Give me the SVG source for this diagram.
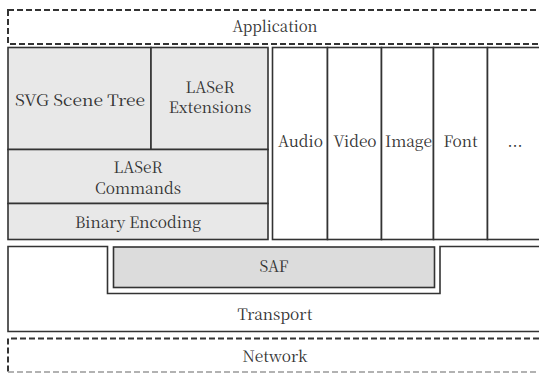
<svg xmlns="http://www.w3.org/2000/svg" width="539" height="374" viewBox="0 0 539 374" font-family="'Noto Serif CJK KR', 'Liberation Serif', serif">
  <style>
    .box { fill: #ffffff; stroke: #333333; stroke-width: 1.6; }
    .lsr { fill: #e8e8e8; stroke: #333333; stroke-width: 1.6; }
    .saf { fill: #dcdcdc; stroke: #333333; stroke-width: 1.6; }
    .dash { fill: #ffffff; stroke: #333333; stroke-width: 2; stroke-dasharray: 6 3; }
    .lbl { font-size: 15.5px; fill: #333333; text-anchor: middle; }
  </style>

  <!-- Application layer (dashed) -->
  <g id="application">
    <rect class="dash" x="8" y="10" width="545" height="34"/>
    <text class="lbl" x="275" y="32" textLength="85" lengthAdjust="spacingAndGlyphs">Application</text>
  </g>

  <!-- LASeR stack -->
  <g id="svg-scene-tree">
    <rect class="lsr" x="8" y="47.5" width="143" height="102"/>
    <text class="lbl" x="80" y="106" textLength="130" lengthAdjust="spacingAndGlyphs">SVG Scene Tree</text>
  </g>
  <g id="laser-extensions">
    <rect class="lsr" x="151" y="47.5" width="117" height="102"/>
    <text class="lbl" x="210" y="93">LASeR</text>
    <text class="lbl" x="210" y="113">Extensions</text>
  </g>
  <g id="laser-commands">
    <rect class="lsr" x="8" y="149.5" width="260" height="54"/>
    <text class="lbl" x="138" y="173">LASeR</text>
    <text class="lbl" x="138" y="194">Commands</text>
  </g>
  <g id="binary-encoding">
    <rect class="lsr" x="8" y="203.5" width="260" height="36"/>
    <text class="lbl" x="138" y="228">Binary Encoding</text>
  </g>

  <!-- Media columns -->
  <g id="audio">
    <rect class="box" x="272.5" y="47.5" width="55" height="192"/>
    <text class="lbl" x="300.5" y="147">Audio</text>
  </g>
  <g id="video">
    <rect class="box" x="327.5" y="47.5" width="54" height="192"/>
    <text class="lbl" x="355" y="147">Video</text>
  </g>
  <g id="image">
    <rect class="box" x="381.5" y="47.5" width="52" height="192"/>
    <text class="lbl" x="408.5" y="147">Image</text>
  </g>
  <g id="font">
    <rect class="box" x="433.5" y="47.5" width="54" height="192"/>
    <text class="lbl" x="460.5" y="147">Font</text>
  </g>
  <g id="more">
    <rect class="box" x="487.5" y="47.5" width="60" height="192"/>
    <text class="lbl" x="515" y="147">...</text>
  </g>

  <!-- Transport with notch holding SAF -->
  <g id="transport">
    <path class="box" d="M8 246.5 H107.5 V293.5 H440 V246.5 H548 V331.5 H8 Z"/>
    <text class="lbl" x="275" y="320">Transport</text>
  </g>
  <g id="saf">
    <rect class="saf" x="113.5" y="247" width="321" height="40.5"/>
    <text class="lbl" x="274" y="272">SAF</text>
  </g>

  <!-- Network layer (dashed) -->
  <g id="network">
    <rect x="8" y="338.5" width="545" height="33.5" fill="#ffffff"/>
    <path d="M548 338.5 H8 V372" fill="none" stroke="#333333" stroke-width="2" stroke-dasharray="6 3"/>
    <path d="M8 372 H548" fill="none" stroke="#999999" stroke-width="1.5" stroke-dasharray="6 3"/>
    <text class="lbl" x="275" y="362">Network</text>
  </g>
</svg>
